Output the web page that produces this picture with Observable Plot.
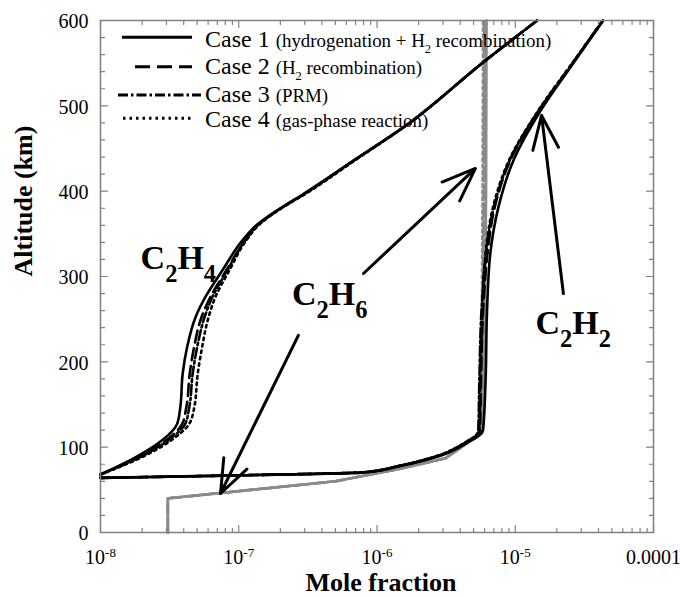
<!DOCTYPE html>
<html><head><meta charset="utf-8">
<script src="https://cdn.jsdelivr.net/npm/d3@7"></script>
<script src="https://cdn.jsdelivr.net/npm/@observablehq/plot@0.6"></script>
<style>
body{margin:0;background:#fff;}
#wrap{position:relative;width:680px;height:597px;}
#legend{position:absolute;left:0;top:0;}
</style></head><body><div id="wrap"></div>
<script>
// ---------- data ----------
const caseNames = ["Case 1", "Case 2", "Case 3", "Case 4"];
const caseNotes = ["(hydrogenation + H_2 recombination)", "(H_2 recombination)", "(PRM)", "(gas-phase reaction)"];

// C2H4 (black)
const altC2H4 = [68, 88, 108, 127, 147, 186, 217, 252, 276, 307, 342, 360, 380, 397, 436, 475, 553, 600];
const c2h4Case1 = [1e-8, 1.79e-8, 2.79e-8, 3.58e-8, 3.78e-8, 3.93e-8, 4.23e-8, 4.86e-8, 5.74e-8, 7.6e-8, 1.06e-7, 1.34e-7, 2.0e-7, 2.95e-7, 6.8e-7, 1.56e-6, 6.08e-6, 1.44e-5];
const c2h4Case2 = [1e-8, 1.88e-8, 2.98e-8, 3.89e-8, 4.18e-8, 4.42e-8, 4.75e-8, 5.37e-8, 6.24e-8, 8.12e-8, 1.11e-7, 1.36e-7, 2.02e-7, 3.0e-7, 6.8e-7, 1.56e-6, 6.08e-6, 1.44e-5];
const c2h4Case3 = [1e-8, 1.91e-8, 3.08e-8, 4.09e-8, 4.39e-8, 4.64e-8, 5.0e-8, 5.65e-8, 6.45e-8, 8.26e-8, 1.11e-7, 1.37e-7, 2.02e-7, 3.0e-7, 6.8e-7, 1.56e-6, 6.08e-6, 1.44e-5];
const c2h4Case4 = [1e-8, 1.98e-8, 3.24e-8, 4.37e-8, 4.77e-8, 5.05e-8, 5.43e-8, 6.04e-8, 6.78e-8, 8.54e-8, 1.13e-7, 1.39e-7, 2.04e-7, 3.05e-7, 6.92e-7, 1.56e-6, 6.08e-6, 1.44e-5];

// C2H2 (black)
const altC2H2 = [64, 67, 70.5, 78, 90, 106, 114, 120, 178, 260, 327, 381, 436, 494, 550, 600];
const c2h2Case1 = [1e-8, 1e-7, 8.2e-7, 1.48e-6, 2.87e-6, 4.58e-6, 5.5e-6, 5.85e-6, 6.1e-6, 6.25e-6, 6.6e-6, 7.55e-6, 9.7e-6, 1.52e-5, 2.63e-5, 4.33e-5];
const c2h2Case2 = [1e-8, 1e-7, 8.0e-7, 1.45e-6, 2.8e-6, 4.45e-6, 5.3e-6, 5.55e-6, 5.65e-6, 5.85e-6, 6.3e-6, 7.1e-6, 9.2e-6, 1.48e-5, 2.6e-5, 4.3e-5];
const c2h2Case3 = [1e-8, 1e-7, 7.9e-7, 1.43e-6, 2.75e-6, 4.4e-6, 5.2e-6, 5.4e-6, 5.5e-6, 5.7e-6, 6.15e-6, 7.0e-6, 9.1e-6, 1.47e-5, 2.6e-5, 4.3e-5];
const c2h2Case4 = [1e-8, 1e-7, 7.9e-7, 1.43e-6, 2.75e-6, 4.4e-6, 5.25e-6, 5.5e-6, 5.6e-6, 5.8e-6, 6.1e-6, 6.9e-6, 9.0e-6, 1.46e-5, 2.58e-5, 4.3e-5];

// C2H6 (gray)
const altC2H6 = [0, 40, 60, 75, 87, 106, 116, 200, 400, 600];
const c2h6Case1 = [3.07e-8, 3.07e-8, 5.0e-7, 1.5e-6, 3.13e-6, 4.6e-6, 5.75e-6, 6.0e-6, 6.15e-6, 6.2e-6];
const c2h6Case2 = [3.07e-8, 3.07e-8, 5.0e-7, 1.5e-6, 3.13e-6, 4.6e-6, 5.7e-6, 5.85e-6, 5.95e-6, 6.0e-6];
const c2h6Case3 = [3.07e-8, 3.07e-8, 5.0e-7, 1.5e-6, 3.13e-6, 4.6e-6, 5.65e-6, 5.8e-6, 5.9e-6, 5.95e-6];
const c2h6Case4 = [3.07e-8, 3.07e-8, 5.0e-7, 1.5e-6, 3.13e-6, 4.6e-6, 5.6e-6, 5.7e-6, 5.8e-6, 5.85e-6];

// species labels
const speciesText = ["C_2H_4", "C_2H_6", "C_2H_2"];
const speciesX = [1.95e-8, 2.43e-7, 1.4e-5];
const speciesY = [321, 279, 245];

// arrows
const arrowX1 = [7.98e-7, 2.7e-7, 2.23e-5];
const arrowY1 = [303.5, 231, 280];
const arrowX2 = [5.15e-6, 7.38e-8, 1.55e-5];
const arrowY2 = [426.6, 45.7, 488.7];

// axes
const xTickValues = [1e-8, 1e-7, 1e-6, 1e-5, 1e-4];
const xTickLabels = ["10^-8", "10^-7", "10^-6", "10^-5", "0.0001"];
const yTickValues = [0, 100, 200, 300, 400, 500, 600];
const yMinorStep = 20;

// ---------- build ----------
const FONT = "'Liberation Serif', 'Times New Roman', serif";
const dashes = [null, "12,6", "10,3,2.5,3", "2.5,4"];
const gray = "#8a8a8a";

function rows(alts, xs) { return alts.map((a, i) => ({x: xs[i], alt: a})); }
const c2h4 = [c2h4Case1, c2h4Case2, c2h4Case3, c2h4Case4].map(xs => rows(altC2H4, xs));
const c2h2 = [c2h2Case1, c2h2Case2, c2h2Case3, c2h2Case4].map(xs => rows(altC2H2, xs));
const c2h6 = [c2h6Case1, c2h6Case2, c2h6Case3, c2h6Case4].map(xs => rows(altC2H6, xs));

const labels = speciesText.map((t, i) => ({t, x: speciesX[i], y: speciesY[i]}));
const arrows = arrowX1.map((_, i) => ({x1: arrowX1[i], y1: arrowY1[i], x2: arrowX2[i], y2: arrowY2[i]}));

const xMinor = [];
for (let e = -8; e < -4; e++) for (let m = 2; m <= 9; m++) xMinor.push(m * Math.pow(10, e));
const yMinor = d3.range(0, 601, yMinorStep).filter(v => v % 100 !== 0);

const tickShape = {draw(ctx, l) { ctx.moveTo(0, 0); ctx.lineTo(0, -l); }};
const tickStyle = {stroke: "#808080", strokeWidth: 1.2, shape: tickShape, anchor: "start"};

const marks = [];
c2h6.forEach((d, i) => marks.push(Plot.line(d, {x: "x", y: "alt", stroke: gray, strokeWidth: 2.6, strokeDasharray: dashes[i]})));
c2h4.forEach((d, i) => marks.push(Plot.line(d, {x: "x", y: "alt", stroke: "black", strokeWidth: 2.6, strokeDasharray: dashes[i], curve: "monotone-y"})));
c2h2.forEach((d, i) => marks.push(Plot.line(d, {x: "x", y: "alt", stroke: "black", strokeWidth: 2.6, strokeDasharray: dashes[i], curve: "monotone-y"})));

marks.push(
  Plot.arrow(arrows, {x1: "x1", y1: "y1", x2: "x2", y2: "y2", stroke: "black", strokeWidth: 3, headLength: 18, headAngle: 42}),
  Plot.text(labels, {x: "x", y: "y", text: "t", textAnchor: "start", fontSize: 34, fontWeight: "bold", fill: "black"}),
  Plot.vector(yTickValues, {y: d => d, frameAnchor: "left", rotate: 90, length: 7, ...tickStyle}),
  Plot.vector(yMinor, {y: d => d, frameAnchor: "left", rotate: 90, length: 4, ...tickStyle}),
  Plot.vector(yTickValues, {y: d => d, frameAnchor: "right", rotate: -90, length: 7, ...tickStyle}),
  Plot.vector(yMinor, {y: d => d, frameAnchor: "right", rotate: -90, length: 4, ...tickStyle}),
  Plot.vector(xTickValues, {x: d => d, frameAnchor: "bottom", rotate: 0, length: 7, ...tickStyle}),
  Plot.vector(xMinor, {x: d => d, frameAnchor: "bottom", rotate: 0, length: 4, ...tickStyle}),
  Plot.vector(xTickValues, {x: d => d, frameAnchor: "top", rotate: 180, length: 7, ...tickStyle}),
  Plot.vector(xMinor, {x: d => d, frameAnchor: "top", rotate: 180, length: 4, ...tickStyle}),
  Plot.frame({stroke: "#808080", strokeWidth: 1.5}),
  Plot.text(xTickValues, {x: d => d, text: (d, i) => xTickLabels[i], frameAnchor: "bottom", dy: 31, fontSize: 20, fill: "black"}),
  Plot.text(yTickValues, {y: d => d, text: d => String(d), frameAnchor: "left", dx: -12, dy: 1.5, textAnchor: "end", fontSize: 20, fill: "black"}),
  Plot.text(["Altitude (km)"], {text: d => d, frameAnchor: "left", rotate: -90, dx: -77, fontSize: 26, fontWeight: "bold", fill: "black"}),
  Plot.text(["Mole fraction"], {text: d => d, frameAnchor: "bottom", dx: 4, dy: 58, fontSize: 26, fontWeight: "bold", fill: "black"})
);

const plot = Plot.plot({
  width: 680, height: 597,
  marginTop: 20, marginRight: 27, marginBottom: 65, marginLeft: 100,
  x: {type: "log", domain: [1e-8, 1e-4], axis: null},
  y: {domain: [0, 600], axis: null},
  style: {fontFamily: FONT, fontSize: "20px", background: "white", color: "black", overflow: "visible"},
  marks
});
const wrap = document.getElementById("wrap");
wrap.appendChild(plot);

// ---------- legend overlay ----------
const ns = "http://www.w3.org/2000/svg";
const legendLineY = [37.3, 66.7, 95, 118.3];
const legendTextY = [46.5, 74, 102, 127];
const legendX1 = [122, 135, 118, 123];
const legendX2 = [192, 192, 201, 193];
const leg = d3.select(wrap).append("svg").attr("id", "legend").attr("width", 680).attr("height", 140)
  .style("font-family", FONT);
caseNames.forEach((name, i) => {
  leg.append("line").attr("x1", legendX1[i]).attr("x2", legendX2[i]).attr("y1", legendLineY[i]).attr("y2", legendLineY[i])
    .attr("stroke", "black").attr("stroke-width", 3).attr("stroke-dasharray", i === 1 ? "15,7" : dashes[i]);
  const t = leg.append("text").attr("x", 205).attr("y", legendTextY[i]).attr("fill", "black");
  t.append("tspan").attr("font-size", 24).text(name + " ");
  const parts = caseNotes[i].match(/_\d+|[^_]+/g);
  let shift = 0;
  parts.forEach(p => {
    const sp = t.append("tspan").attr("font-size", 18.9);
    let target = 0, txt = p;
    if (p[0] === "_") { target = 6; txt = p.slice(1); sp.attr("font-size", 12.5); }
    if (target - shift !== 0) sp.attr("dy", target - shift);
    shift = target;
    sp.text(txt);
  });
});

// ---------- rich text (sub/superscripts) ----------
d3.select(plot).selectAll("text").each(function() {
  const el = this;
  const s = el.textContent;
  if (!/[_^]/.test(s)) return;
  const fs = parseFloat(getComputedStyle(el).fontSize) || 20;
  const parts = s.match(/\^-?\d+|_\d+|[^_^]+/g);
  el.textContent = "";
  let shift = 0;
  parts.forEach(p => {
    const t = document.createElementNS(ns, "tspan");
    let target = 0, txt = p, size = null;
    if (p[0] === "^") { target = -0.32 * fs; txt = p.slice(1); size = 0.65 * fs; }
    else if (p[0] === "_") { target = 0.36 * fs; txt = p.slice(1); size = 0.72 * fs; }
    if (target - shift !== 0) t.setAttribute("dy", target - shift);
    shift = target;
    if (size) t.setAttribute("font-size", size);
    t.textContent = txt;
    el.appendChild(t);
  });
});
</script>
</body></html>
